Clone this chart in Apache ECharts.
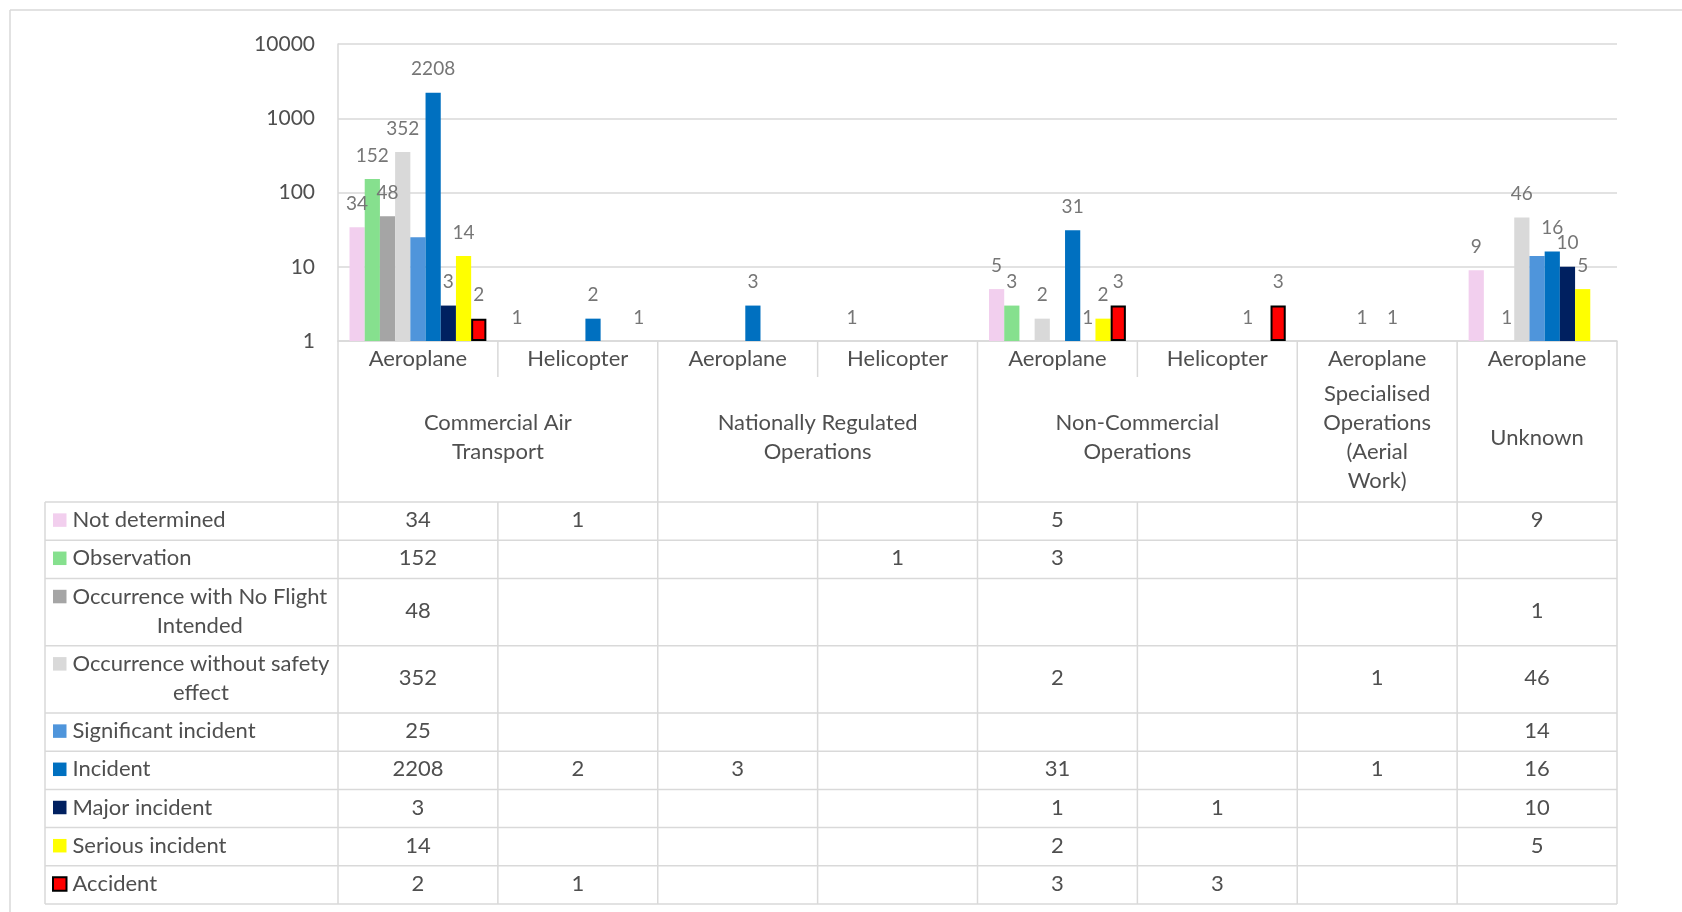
<!DOCTYPE html>
<html>
<head>
<meta charset="utf-8">
<script src="https://cdn.jsdelivr.net/npm/echarts@6/dist/echarts.min.js"></script>
<style>
  html, body { margin: 0; padding: 0; background: #ffffff; }
  #chart { width: 1682px; height: 912px; }
</style>
</head>
<body>
<div id="chart"></div>
<script>
// ---- data ----
const subCategories = ['Aeroplane', 'Helicopter', 'Aeroplane', 'Helicopter', 'Aeroplane', 'Helicopter', 'Aeroplane', 'Aeroplane'];
const groupNames = ['Commercial Air\nTransport', 'Nationally Regulated\nOperations', 'Non-Commercial\nOperations', 'Specialised\nOperations\n(Aerial\nWork)', 'Unknown'];
const groupSpans = [2, 2, 2, 1, 1];

const seriesNames = [
  'Not determined',
  'Observation',
  'Occurrence with No Flight Intended',
  'Occurrence without safety effect',
  'Significant incident',
  'Incident',
  'Major incident',
  'Serious incident',
  'Accident'
];
const seriesColors = ['#f2cfee', '#86e08e', '#a5a5a5', '#d9d9d9', '#4f95db', '#0070c0', '#002060', '#ffff00', '#ff0000'];
const seriesShowLabels = [true, true, true, true, false, true, true, true, true];

const notDetermined       = [34,   1,    null, null, 5,    null, null, 9];
const observation         = [152,  null, null, 1,    3,    null, null, null];
const noFlightIntended    = [48,   null, null, null, null, null, null, 1];
const withoutSafetyEffect = [352,  null, null, null, 2,    null, 1,    46];
const significantIncident = [25,   null, null, null, null, null, null, 14];
const incident            = [2208, 2,    3,    null, 31,   null, 1,    16];
const majorIncident       = [3,    null, null, null, 1,    1,    null, 10];
const seriousIncident     = [14,   null, null, null, 2,    null, null, 5];
const accident            = [2,    1,    null, null, 3,    3,    null, null];

const seriesValues = [notDetermined, observation, noFlightIntended, withoutSafetyEffect,
  significantIncident, incident, majorIncident, seriousIncident, accident];

const yTickValues = [1, 10, 100, 1000, 10000];

// legend names broken over two lines in the table's first column
const legendLines = {
  'Occurrence with No Flight Intended': ['Occurrence with No Flight', 'Intended'],
  'Occurrence without safety effect': ['Occurrence without safety', 'effect']
};

// ---- style ----
const FONT = 'Lato, "Open Sans", sans-serif';
const TEXT = '#4f4f4f';
const LABEL = '#767676';
const LINE = '#d9d9d9';

const chart = echarts.init(document.getElementById('chart'), null, { renderer: 'canvas' });

const series = seriesNames.map((name, i) => {
  const isAccident = name === 'Accident';
  return {
    name: name,
    type: 'bar',
    barGap: '0%',
    barCategoryGap: '14.4%',
    data: seriesValues[i].map(v => {
      if (v == null) return '-';
      if (isAccident) return { value: v, itemStyle: { borderWidth: v > 1 ? 2 : 0 } };
      return v;
    }),
    itemStyle: isAccident ? { color: seriesColors[i], borderColor: '#000000', borderWidth: 2 } : { color: seriesColors[i] },
    label: {
      show: seriesShowLabels[i],
      position: 'top',
      distance: 14,
      color: LABEL,
      fontSize: 19,
      fontFamily: FONT
    },
    emphasis: { disabled: true },
    animation: false
  };
});

chart.setOption({
  animation: false,
  backgroundColor: '#ffffff',
  grid: { left: 338, top: 44, width: 1279, height: 297, containLabel: false },
  xAxis: {
    type: 'category',
    data: subCategories,
    axisLine: { show: true, lineStyle: { color: LINE, width: 1.5 } },
    axisTick: { show: false },
    axisLabel: { color: TEXT, fontSize: 22, fontFamily: FONT, margin: 4, lineHeight: 28, interval: 0 },
    splitLine: { show: false }
  },
  yAxis: {
    type: 'log',
    logBase: 10,
    min: yTickValues[0],
    max: yTickValues[yTickValues.length - 1],
    axisLine: { show: true, lineStyle: { color: LINE, width: 1.5 } },
    axisTick: { show: false },
    axisLabel: {
      color: TEXT, fontSize: 21, fontFamily: FONT, margin: 23,
      formatter: v => String(Math.round(v))
    },
    splitLine: { show: true, lineStyle: { color: LINE, width: 1.5 } }
  },
  series: series
});

// ---- header + data table under the plot ----
function buildTable() {
  const n = subCategories.length;
  const centers = subCategories.map((_, i) => chart.convertToPixel({ xAxisIndex: 0 }, i));
  const colW = centers[1] - centers[0];
  const edges = centers.map(c => c - colW / 2);
  edges.push(centers[n - 1] + colW / 2);
  const axisY = chart.convertToPixel({ yAxisIndex: 0 }, yTickValues[0]);

  const subRowBottom = axisY + 36;
  const tableTop = axisY + 161;
  const tableLeft = 45;
  const rowH1 = 38.2, rowH2 = 67.3, lineH = 29;
  const textShift = -1;

  // row boundaries
  const rowTops = [];
  let y = tableTop;
  seriesNames.forEach(name => {
    rowTops.push(y);
    y += legendLines[name] ? rowH2 : rowH1;
  });
  const tableBottom = y;

  const els = [];
  const line = (x1, y1, x2, y2, stroke) => els.push({
    type: 'line', silent: true, z: 1,
    shape: { x1, y1, x2, y2 },
    style: { stroke: stroke || LINE, lineWidth: 1.5 }
  });
  const text = (str, x, y, font, align, fill) => els.push({
    type: 'text', silent: true, z: 5,
    style: {
      text: str, x, y, font: font, fill: fill || TEXT,
      align: align, textAlign: align,
      verticalAlign: 'middle', textVerticalAlign: 'middle',
      lineHeight: lineH
    }
  });

  // outer frame (top and left edges)
  line(10, 10, 1682, 10);
  line(10, 10, 10, 912);

  // group boundaries
  const groupEdges = [0];
  groupSpans.reduce((acc, s) => { groupEdges.push(acc + s); return acc + s; }, 0);

  edges.forEach((ex, k) => {
    if (groupEdges.indexOf(k) >= 0) {
      line(ex, axisY, ex, tableBottom);
    } else {
      line(ex, axisY, ex, subRowBottom);
      line(ex, tableTop, ex, tableBottom);
    }
  });

  // group labels
  const midY = (subRowBottom + tableTop) / 2 - 2;
  groupNames.forEach((g, gi) => {
    const a = edges[groupEdges[gi]], b = edges[groupEdges[gi + 1]];
    text(g, (a + b) / 2, midY, '22px ' + FONT, 'center');
  });

  // table horizontal lines + left edge
  rowTops.forEach(rt => line(tableLeft, rt, edges[n], rt));
  line(tableLeft, tableBottom, edges[n], tableBottom);
  line(tableLeft, tableTop, tableLeft, tableBottom);

  // measure helper for centring wrapped legend lines
  const ctx = document.createElement('canvas').getContext('2d');
  ctx.font = '22px ' + FONT;

  const keyX = 53, keySize = 13.5, textX = 72.5;
  seriesNames.forEach((name, r) => {
    const top = rowTops[r];
    const lines = legendLines[name];
    const h = lines ? rowH2 : rowH1;
    const firstY = (lines ? top + h / 2 - lineH / 2 : top + h / 2) + textShift;
    const isAccident = name === 'Accident';
    els.push({
      type: 'rect', silent: true, z: 5,
      shape: { x: keyX, y: firstY - keySize / 2, width: keySize, height: keySize },
      style: { fill: seriesColors[r], stroke: isAccident ? '#000000' : null, lineWidth: isAccident ? 2 : 0 }
    });
    if (lines) {
      text(lines[0], textX, firstY, '22px ' + FONT, 'left');
      const w = ctx.measureText(lines[0]).width;
      text(lines[1], textX + w / 2, firstY + lineH, '22px ' + FONT, 'center');
    } else {
      text(name, textX, firstY, '22px ' + FONT, 'left');
    }
    // values
    seriesValues[r].forEach((v, c) => {
      if (v == null) return;
      text(String(v), centers[c], top + h / 2 + textShift, '22px ' + FONT, 'center');
    });
  });

  chart.setOption({ graphic: { elements: els } });
}

buildTable();
</script>
</body>
</html>
